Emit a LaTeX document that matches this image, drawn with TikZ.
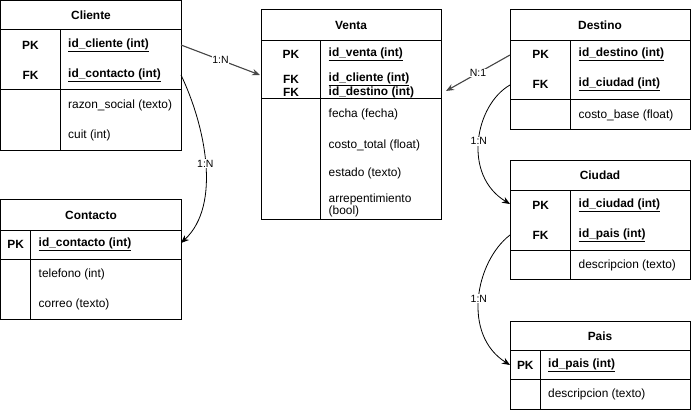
\documentclass[tikz,border=0pt]{standalone}
\usepackage{fontspec}
\setmainfont{Liberation Sans}
\usetikzlibrary{arrows.meta}

\tikzset{
  tbl/.style={draw=black, line width=1pt},
  txt/.style={font=\fontsize{11.9}{13}\selectfont, inner sep=0pt},
  hdr/.style={txt, font=\fontsize{11.9}{13}\selectfont\bfseries, anchor=center},
  keycol/.style={txt, font=\fontsize{11.9}{13}\selectfont\bfseries, anchor=center},
  keyattr/.style={txt, font=\fontsize{11.9}{13}\selectfont\bfseries, anchor=west},
  attr/.style={txt, anchor=west},
  rel/.style={-{Stealth[length=8pt,width=6.5pt]}, line width=1.1pt, draw=black!72, fill=black!72},
  relc/.style={-{Stealth[length=8pt,width=6.5pt]}, line width=0.8pt, draw=black},
  card/.style={font=\fontsize{10.5}{12}\selectfont, fill=white, inner sep=0.8pt},
}
\newcommand{\keyu}[1]{\underline{#1}}

\begin{document}
\begin{tikzpicture}[x=1pt,y=-1pt]
\useasboundingbox (0,0) rectangle (691,411);

% ---------- Cliente ----------
\draw[tbl] (0.5,0.5) rectangle (181,151);
\draw[tbl] (0.5,30) -- (181,30) (0.5,90) -- (181,90) (60.7,30) -- (60.7,151);
\node[hdr] (cli-t) at (91,15) {Cliente};
\node[keycol] (cli-pk) at (30.5,45) {PK};
\node[keycol] (cli-fk) at (30.5,75) {FK};
\node[keyattr] (cli-a1) at (68,45) {\keyu{id\_cliente (int)}};
\node[keyattr] (cli-a2) at (68,75) {\keyu{id\_contacto (int)}};
\node[attr] (cli-a3) at (68,105) {razon\_social (texto)};
\node[attr] (cli-a4) at (68,135) {cuit (int)};
\coordinate (cli-pk-e) at (181,45);
\coordinate (cli-fk-e) at (181,75);

% ---------- Contacto ----------
\draw[tbl] (0.5,200) rectangle (181,319.5);
\draw[tbl] (0.5,231) -- (181,231) (0.5,260) -- (181,260) (30.7,231) -- (30.7,319.5);
\node[hdr] (con-t) at (91,215) {Contacto};
\node[keycol] (con-pk) at (15.6,244) {PK};
\node[keyattr] (con-a1) at (38.5,244) {\keyu{id\_contacto (int)}};
\node[attr] (con-a2) at (38.5,274.5) {telefono (int)};
\node[attr] (con-a3) at (38.5,304.5) {correo (texto)};
\coordinate (con-pk-e) at (181,243);

% ---------- Venta ----------
\draw[tbl] (261,10) rectangle (441,220);
\draw[tbl] (261,41) -- (441,41) (261,99) -- (441,99) (320.7,41) -- (320.7,220);
\node[hdr] (ven-t) at (351,25.5) {Venta};
\node[keycol] (ven-pk) at (291,54.5) {PK};
\node[keycol] (ven-fk1) at (291,79.5) {FK};
\node[keycol] (ven-fk2) at (291,92.5) {FK};
\node[keyattr] (ven-a1) at (328.5,54.5) {\keyu{id\_venta (int)}};
\node[keyattr] (ven-a2) at (328.5,79.5) {\keyu{id\_cliente (int)}};
\node[keyattr] (ven-a3) at (328.5,92.5) {id\_destino (int)};
\node[attr] (ven-a4) at (328.5,114.5) {fecha (fecha)};
\node[attr] (ven-a5) at (328.5,145) {costo\_total (float)};
\node[attr] (ven-a6) at (328.5,173.5) {estado (texto)};
\node[attr, align=left, font=\fontsize{11.9}{12.5}\selectfont] (ven-a7) at (328.5,205.5) {arrepentimiento\\(bool)};
\coordinate (ven-fk1-w) at (260,75);
\coordinate (ven-fk2-e) at (446,91);

% ---------- Destino ----------
\draw[tbl] (510.5,10) rectangle (690,129.5);
\draw[tbl] (510.5,40.7) -- (690,40.7) (510.5,100) -- (690,100) (570.7,40.7) -- (570.7,129.5);
\node[hdr] (des-t) at (600,25.5) {Destino};
\node[keycol] (des-pk) at (540.6,54.5) {PK};
\node[keycol] (des-fk) at (540.6,84.5) {FK};
\node[keyattr] (des-a1) at (578.5,54.5) {\keyu{id\_destino (int)}};
\node[keyattr] (des-a2) at (578.5,84.5) {\keyu{id\_ciudad (int)}};
\node[attr] (des-a3) at (578.5,115) {costo\_base (float)};
\coordinate (des-pk-w) at (510,55);
\coordinate (des-fk-w) at (510,85);

% ---------- Ciudad ----------
\draw[tbl] (510.5,160.7) rectangle (690,280);
\draw[tbl] (510.5,190.7) -- (690,190.7) (510.5,250.7) -- (690,250.7) (570.7,190.7) -- (570.7,280);
\node[hdr] (ciu-t) at (600,175.5) {Ciudad};
\node[keycol] (ciu-pk) at (540.6,205) {PK};
\node[keycol] (ciu-fk) at (540.6,235) {FK};
\node[keyattr] (ciu-a1) at (578.5,205) {\keyu{id\_ciudad (int)}};
\node[keyattr] (ciu-a2) at (578.5,235) {\keyu{id\_pais (int)}};
\node[attr] (ciu-a3) at (578.5,265) {descripcion (texto)};
\coordinate (ciu-pk-w) at (510,204);
\coordinate (ciu-fk-w) at (510,235);

% ---------- Pais ----------
\draw[tbl] (510.5,321.7) rectangle (690,409.5);
\draw[tbl] (510.5,351) -- (690,351) (510.5,380) -- (690,380) (540,351) -- (540,409.5);
\node[hdr] (pai-t) at (600,336.5) {Pais};
\node[keycol] (pai-pk) at (525.3,365.5) {PK};
\node[keyattr] (pai-a1) at (548,365.5) {\keyu{id\_pais (int)}};
\node[attr] (pai-a2) at (548,394.5) {descripcion (texto)};
\coordinate (pai-pk-w) at (510,365);

% ---------- Relationships ----------
\draw[rel] (cli-pk-e) -- node[card] {1:N} (ven-fk1-w);
\draw[rel] (des-pk-w) -- node[card] {N:1} (ven-fk2-e);
\draw[relc] (cli-fk-e) .. controls (205,125) and (222,205) .. node[card] {1:N} (con-pk-e);
\draw[relc] (des-fk-w) .. controls (475,105) and (462,175) .. node[card] {1:N} (ciu-pk-w);
\draw[relc] (ciu-fk-w) .. controls (475,262) and (462,335) .. node[card] {1:N} (pai-pk-w);
\end{tikzpicture}
\end{document}
